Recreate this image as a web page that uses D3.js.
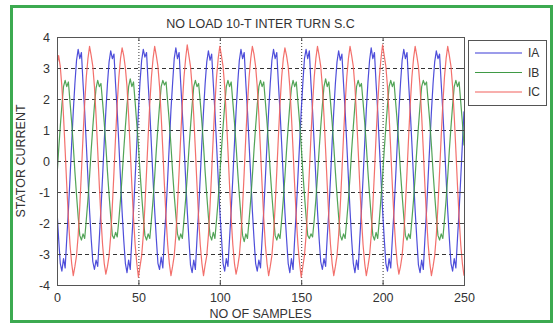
<!DOCTYPE html>
<html>
<head>
<meta charset="utf-8">
<script src="https://cdn.jsdelivr.net/npm/d3@7/dist/d3.min.js"></script>
<style>
  html, body { margin: 0; padding: 0; background: #ffffff; }
  svg { display: block; }
  text { font-family: "Liberation Sans", Arial, sans-serif; fill: #333; }
</style>
</head>
<body>
<svg id="chart" width="554" height="325"></svg>
<script>
const title = "NO LOAD 10-T INTER TURN S.C";
const xLabel = "NO OF SAMPLES";
const yLabel = "STATOR CURRENT";
const seriesNames = ["IA", "IB", "IC"];
const xTicks = [0, 50, 100, 150, 200, 250];
const yTicks = [-4, -3, -2, -1, 0, 1, 2, 3, 4];

const IA = [
-1.6,-2.5,-3.3,-3.55,-3.15,-3.45,-2.5,-1.6,-0.55,0.55,1.6,2.5,3.25,3.6,3.3,3.5,2.5,1.6,0.55,-0.55,
-1.6,-2.5,-3.25,-3.5,-3.2,-3.4,-2.5,-1.55,-0.5,0.6,1.6,2.5,3.2,3.55,3.3,3.45,2.45,1.6,0.55,-0.55,
-1.65,-2.55,-3.3,-3.6,-3.2,-3.5,-2.5,-1.6,-0.55,0.55,1.6,2.55,3.25,3.6,3.35,3.5,2.5,1.6,0.5,-0.6,
-1.6,-2.5,-3.3,-3.5,-3.1,-3.45,-2.45,-1.6,-0.55,0.55,1.65,2.5,3.3,3.65,3.3,3.5,2.5,1.55,0.55,-0.55,
-1.6,-2.5,-3.35,-3.6,-3.2,-3.5,-2.5,-1.6,-0.5,0.6,1.6,2.5,3.2,3.55,3.25,3.45,2.5,1.6,0.55,-0.55,
-1.6,-2.45,-3.3,-3.55,-3.15,-3.4,-2.5,-1.6,-0.55,0.55,1.6,2.5,3.25,3.6,3.3,3.5,2.5,1.6,0.55,-0.5,
-1.6,-2.5,-3.3,-3.55,-3.2,-3.45,-2.5,-1.6,-0.55,0.55,1.6,2.5,3.25,3.6,3.3,3.5,2.5,1.6,0.55,-0.55,
-1.65,-2.5,-3.3,-3.6,-3.15,-3.5,-2.5,-1.6,-0.5,0.55,1.6,2.5,3.3,3.6,3.3,3.55,2.5,1.6,0.55,-0.55,
-1.6,-2.5,-3.25,-3.5,-3.15,-3.4,-2.45,-1.6,-0.55,0.6,1.6,2.5,3.2,3.55,3.25,3.45,2.5,1.6,0.55,-0.55,
-1.6,-2.55,-3.3,-3.6,-3.2,-3.5,-2.5,-1.6,-0.55,0.55,1.65,2.55,3.25,3.65,3.3,3.5,2.5,1.6,0.5,-0.55,
-1.6,-2.5,-3.3,-3.55,-3.15,-3.45,-2.5,-1.6,-0.55,0.55,1.6,2.5,3.25,3.6,3.3,3.5,2.5,1.6,0.55,-0.55,
-1.6,-2.5,-3.35,-3.6,-3.2,-3.5,-2.5,-1.6,-0.5,0.55,1.6,2.5,3.2,3.55,3.3,3.45,2.5,1.6,0.55,-0.55,
-1.6,-2.5,-3.3,-3.55,-3.15,-3.45,-2.5,-1.6,-0.55,0.55,1.6
];

const IB = [
-0.5,0.35,1.1,1.8,2.4,2.6,2.4,2.55,1.9,1.25,0.5,-0.35,-1.1,-1.8,-2.4,-2.55,-2.35,-2.5,-1.9,-1.25,
-0.5,0.35,1.1,1.8,2.35,2.6,2.4,2.5,1.9,1.25,0.5,-0.35,-1.1,-1.8,-2.4,-2.5,-2.3,-2.45,-1.9,-1.25,
-0.5,0.35,1.1,1.8,2.4,2.65,2.4,2.55,1.9,1.2,0.5,-0.35,-1.1,-1.8,-2.4,-2.55,-2.35,-2.5,-1.9,-1.25,
-0.5,0.35,1.1,1.8,2.4,2.6,2.45,2.55,1.9,1.25,0.5,-0.35,-1.1,-1.75,-2.35,-2.55,-2.35,-2.5,-1.9,-1.25,
-0.5,0.35,1.1,1.8,2.4,2.6,2.4,2.5,1.9,1.25,0.5,-0.35,-1.1,-1.8,-2.4,-2.55,-2.3,-2.5,-1.9,-1.25,
-0.45,0.35,1.1,1.8,2.4,2.6,2.4,2.55,1.9,1.25,0.5,-0.35,-1.1,-1.8,-2.4,-2.6,-2.35,-2.5,-1.9,-1.25,
-0.5,0.35,1.1,1.8,2.4,2.6,2.4,2.55,1.9,1.25,0.5,-0.35,-1.1,-1.8,-2.4,-2.55,-2.35,-2.5,-1.9,-1.25,
-0.5,0.35,1.1,1.8,2.35,2.6,2.4,2.55,1.9,1.25,0.5,-0.35,-1.1,-1.8,-2.4,-2.5,-2.35,-2.45,-1.9,-1.25,
-0.5,0.35,1.1,1.8,2.4,2.65,2.4,2.55,1.9,1.25,0.5,-0.35,-1.1,-1.8,-2.4,-2.55,-2.35,-2.5,-1.9,-1.25,
-0.5,0.35,1.1,1.8,2.4,2.6,2.4,2.5,1.9,1.25,0.5,-0.35,-1.1,-1.8,-2.4,-2.55,-2.3,-2.5,-1.9,-1.2,
-0.5,0.35,1.1,1.8,2.4,2.6,2.4,2.55,1.9,1.25,0.5,-0.35,-1.1,-1.8,-2.4,-2.55,-2.35,-2.5,-1.9,-1.25,
-0.5,0.35,1.1,1.8,2.4,2.6,2.45,2.55,1.9,1.25,0.5,-0.35,-1.1,-1.8,-2.4,-2.55,-2.35,-2.5,-1.9,-1.25,
-0.5,0.35,1.1,1.8,2.4,2.6,2.4,2.55,1.9,1.25,0.5
];

const IC = [
3.1,3.4,3.05,2.4,1.45,0.35,-0.8,-1.85,-2.7,-3.3,-3.7,-3.4,-3.05,-2.4,-1.45,-0.35,0.8,1.85,2.7,3.3,
3.7,3.4,3.05,2.4,1.45,0.35,-0.8,-1.85,-2.7,-3.3,-3.65,-3.4,-3.05,-2.4,-1.45,-0.35,0.8,1.85,2.7,3.3,
3.65,3.4,3.0,2.4,1.45,0.35,-0.8,-1.85,-2.7,-3.3,-3.75,-3.4,-3.05,-2.4,-1.45,-0.35,0.8,1.85,2.7,3.3,
3.7,3.4,3.05,2.4,1.45,0.35,-0.8,-1.85,-2.7,-3.3,-3.7,-3.4,-3.05,-2.4,-1.45,-0.35,0.8,1.85,2.7,3.3,
3.75,3.4,3.05,2.4,1.45,0.35,-0.8,-1.85,-2.7,-3.3,-3.7,-3.35,-3.05,-2.4,-1.45,-0.35,0.8,1.85,2.7,3.3,
3.7,3.4,3.05,2.4,1.45,0.35,-0.8,-1.85,-2.7,-3.3,-3.65,-3.4,-3.05,-2.4,-1.45,-0.35,0.8,1.85,2.7,3.3,
3.7,3.45,3.05,2.4,1.45,0.35,-0.8,-1.85,-2.7,-3.3,-3.7,-3.4,-3.05,-2.4,-1.45,-0.35,0.8,1.85,2.7,3.3,
3.65,3.4,3.05,2.4,1.45,0.35,-0.8,-1.85,-2.7,-3.3,-3.75,-3.4,-3.05,-2.4,-1.45,-0.35,0.8,1.85,2.7,3.3,
3.7,3.4,3.05,2.4,1.45,0.35,-0.8,-1.85,-2.7,-3.3,-3.7,-3.4,-3.05,-2.4,-1.45,-0.35,0.8,1.85,2.7,3.3,
3.7,3.4,3.05,2.4,1.45,0.35,-0.8,-1.85,-2.7,-3.3,-3.7,-3.4,-3.05,-2.4,-1.45,-0.35,0.8,1.85,2.7,3.3,
3.75,3.4,3.05,2.4,1.45,0.35,-0.8,-1.85,-2.7,-3.3,-3.65,-3.4,-3.05,-2.4,-1.45,-0.35,0.8,1.85,2.7,3.3,
3.7,3.4,3.05,2.4,1.45,0.35,-0.8,-1.85,-2.7,-3.3,-3.7,-3.4,-3.05,-2.4,-1.45,-0.35,0.8,1.85,2.7,3.3,
3.7,3.4,3.05,2.4,1.45,0.35,-0.8,-1.85,-2.7,-3.3,-3.7
];

const seriesData = [IA, IB, IC];
const colors = ["#3b3bd6", "#3f9a45", "#f2605c"];

const svg = d3.select("#chart");
const L = 57, R = 464, T = 37, B = 285;

// green outer frame
svg.append("rect").attr("x", 0).attr("y", 0).attr("width", 554).attr("height", 325).attr("fill", "#fff");
svg.append("rect")
  .attr("x", 11.5).attr("y", 6.5).attr("width", 540).attr("height", 315)
  .attr("fill", "none").attr("stroke", "#3caa50").attr("stroke-width", 3);

const x = d3.scaleLinear().domain([0, 250]).range([L, R]);
const y = d3.scaleLinear().domain([-4, 4]).range([B, T]);

svg.append("rect").attr("x", L).attr("y", T).attr("width", R - L).attr("height", B - T).attr("fill", "#fff");

// grid
const grid = svg.append("g");
grid.selectAll("line.h").data(yTicks.filter(v => v > -4 && v < 4)).enter().append("line")
  .attr("x1", L).attr("x2", R).attr("y1", d => y(d) + 0.5).attr("y2", d => y(d) + 0.5)
  .attr("stroke", "#333").attr("stroke-width", 1).attr("stroke-dasharray", "4,3");
grid.selectAll("line.v").data(xTicks.filter(v => v > 0 && v < 250)).enter().append("line")
  .attr("x1", d => x(d) + 0.5).attr("x2", d => x(d) + 0.5).attr("y1", T).attr("y2", B)
  .attr("stroke", "#333").attr("stroke-width", 1).attr("stroke-dasharray", "1,2");

// lines
const line = d3.line().x((d, i) => x(i)).y(d => y(d));
const clip = svg.append("clipPath").attr("id", "clip").append("rect")
  .attr("x", L).attr("y", T).attr("width", R - L).attr("height", B - T);
const lg = svg.append("g").attr("clip-path", "url(#clip)");
seriesData.forEach((s, k) => {
  lg.append("path").datum(s).attr("d", line)
    .attr("fill", "none").attr("stroke", colors[k]).attr("stroke-width", 1.2)
    .attr("stroke-linejoin", "round").attr("opacity", 0.9);
});

// axes
const fs = "12.5px";
const xb = svg.append("g").attr("transform", `translate(0,${B})`)
  .call(d3.axisBottom(x).tickValues(xTicks).tickSizeInner(-4).tickSizeOuter(0).tickPadding(8));
const xt = svg.append("g").attr("transform", `translate(0,${T})`)
  .call(d3.axisTop(x).tickValues(xTicks).tickSizeInner(-4).tickSizeOuter(0).tickFormat(""));
const yl = svg.append("g").attr("transform", `translate(${L},0)`)
  .call(d3.axisLeft(y).tickValues(yTicks).tickSizeInner(-4).tickSizeOuter(0).tickPadding(7));
const yr = svg.append("g").attr("transform", `translate(${R},0)`)
  .call(d3.axisRight(y).tickValues(yTicks).tickSizeInner(-4).tickSizeOuter(0).tickFormat(""));
[xb, xt, yl, yr].forEach(g => {
  g.select(".domain").remove();
  g.selectAll(".tick line").attr("stroke", "#444");
  g.selectAll("text").style("font-size", fs).style("font-family", '"Liberation Sans", Arial, sans-serif').attr("fill", "#333");
});
yl.selectAll("text").text(d => d < 0 ? "-" + Math.abs(d) : d);

svg.append("rect").attr("x", L + 0.5).attr("y", T + 0.5).attr("width", R - L).attr("height", B - T)
  .attr("fill", "none").attr("stroke", "#555").attr("stroke-width", 1);

// title & labels
svg.append("text").attr("x", (L + R) / 2).attr("y", 28).attr("text-anchor", "middle")
  .style("font-size", "12.5px").text(title);
svg.append("text").attr("x", (L + R) / 2).attr("y", 318).attr("text-anchor", "middle")
  .style("font-size", "12.5px").text(xLabel);
svg.append("text").attr("transform", `translate(25,${(T + B) / 2}) rotate(-90)`).attr("text-anchor", "middle")
  .style("font-size", "12.5px").text(yLabel);

// legend
const leg = svg.append("g");
leg.append("rect").attr("x", 468.5).attr("y", 40.5).attr("width", 78).attr("height", 65)
  .attr("fill", "#fff").attr("stroke", "#555").attr("stroke-width", 1);
const legY = d3.scalePoint().domain(seriesNames).range([53, 92]);
seriesNames.forEach((n, k) => {
  leg.append("line").attr("x1", 475).attr("x2", 522).attr("y1", legY(n)).attr("y2", legY(n))
    .attr("stroke", colors[k]).attr("stroke-width", 1.2);
  leg.append("text").attr("x", 528).attr("y", legY(n)).attr("dy", "0.35em")
    .style("font-size", "12px").text(n);
});
</script>
</body>
</html>
